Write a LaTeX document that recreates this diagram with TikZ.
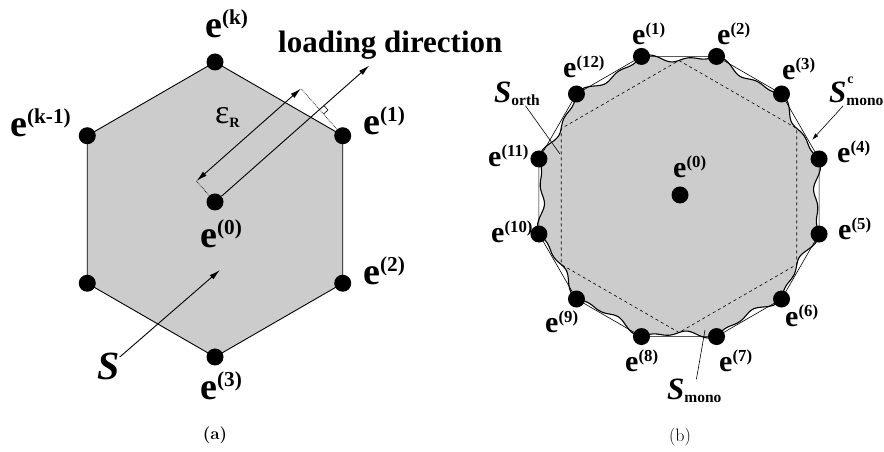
\documentclass[tikz,border=0pt]{standalone}
\usepackage{fontspec}
\usepackage{graphicx}
\usetikzlibrary{arrows.meta,calc}
\newfontfamily\tnr{Liberation Serif}
\newcommand\ee[1]{e\raisebox{.36em}{\scalebox{.56}{(#1)}}}
\newcommand\sub[1]{\raisebox{-.08em}{\scalebox{.5}{\upshape #1}}}

\begin{document}
\begin{tikzpicture}[x=1pt,y=1pt,
  dot/.style={circle,fill=black,inner sep=0pt,minimum size=17pt},
  lab/.style={anchor=base west,inner sep=0pt,font=\tnr\bfseries\fontsize{38}{40}\selectfont},
  slab/.style={anchor=base west,inner sep=0pt,font=\tnr\bfseries\fontsize{30}{32}\selectfont},
  slant/.style={slab,font=\tnr\bfseries\itshape\fontsize{31}{33}\selectfont},
  face/.style={fill=gray!40,draw=black,line width=0.9pt},
  arrow/.style={-{Latex[length=11pt,width=5.5pt]},line width=0.9pt},
  twoway/.style={{Latex[length=11pt,width=5.5pt]}-{Latex[length=11pt,width=5.5pt]},line width=0.9pt},
  guide/.style={densely dotted,line width=0.7pt},
  lead/.style={line width=0.6pt}]
\useasboundingbox (0,0) rectangle (884,452);
\coordinate (c1) at (215,242.5);
\foreach \n/\a in {k/90,1/30,2/-30,3/-90,4/-150,km/150}
  \coordinate (p\n) at ($(c1)+(\a:147.5)$);
\draw[face] (pk)--(p1)--(p2)--(p3)--(p4)--(pkm)--cycle;
\foreach \n in {k,1,2,3,4,km} \node[dot] (v\n) at (p\n) {};
\node[dot] (v0) at (215,250) {};
\node[lab] (lk) at (205,414) {\ee{k}};
\node[lab] (lkm) at (10,315) {\ee{k-1}};
\node[lab] (l1) at (363,317) {\ee{1}};
\node[lab] (l2) at (363,167) {\ee{2}};
\node[lab] (l3) at (200,52) {\ee{3}};
\node[lab] (l0) at (200,204) {\ee{0}};
\node[lab,font=\tnr\bfseries\fontsize{31}{33}\selectfont] (ldir) at (278,399) {loading direction};
\coordinate (ltip) at ($(v0.center)+(41.5:206)$);
\draw[arrow] (v0) -- (ltip);
\coordinate (ft) at ($(v0.center)!(v1.center)!(ltip)$);
\coordinate (ea) at ($(v0.center)+(131.5:28)$);
\coordinate (eb) at ($(ft)+(131.5:28)$);
\draw[twoway] (ea) -- (eb);
\draw[guide] (v0) -- (ea);
\draw[guide] (v1) -- (eb);
\draw[lead] ($(ft)+(-48.5:6)$) -- ++(41.5:6) -- ++(131.5:6);
\node[lab,font=\tnr\fontsize{34}{36}\selectfont] (eps) at (215,328) {ε\raisebox{-.1em}{\scalebox{.42}{\bfseries R}}};
\node[lab,font=\tnr\bfseries\itshape\fontsize{40}{42}\selectfont] (S) at (97,72) {S};
\coordinate (sa) at (220,182);
\draw[arrow] (S) -- (sa);
\node[font=\bfseries\fontsize{17}{19}\selectfont] (capa) at (215,17) {(a)};
\coordinate (c2) at (679,255.5);
\begin{scope}[shift={(c2)}]
\filldraw[fill=gray!40,line width=1.1pt] plot[domain=0:360,samples=361]
  ({\x+15}:{140.06/cos(mod(\x,30)-15)-4*sin(6*\x)*sin(6*\x)-2*sin(24*\x)}) -- cycle;
\draw[dashed,line width=0.6pt] (90:136)--(30:136)--(-30:136)--(-90:136)--(-150:136)--(150:136)--cycle;
\end{scope}
\foreach \k in {1,...,12} \coordinate (q\k) at ($(c2)+({135-30*\k}:145)$);
\draw[lead] (q1)--(q2)--(q3)--(q4)--(q5)--(q6)--(q7)--(q8)--(q9)--(q10)--(q11)--(q12)--cycle;
\foreach \k in {1,...,12} \node[dot] (w\k) at (q\k) {};
\node[dot] (w0) at (680,257) {};
\foreach \k/\x/\y in {1/632/407,2/717/407,3/782/372,4/837/289,5/838/212,6/785/125,7/719/80,
  8/625/80,9/545/119,10/491/209,11/488/285,12/563/374,0/673/274}
  \node[slab] (m\k) at (\x,\y) {\ee{\k}};
\node[slant] (Sorth) at (494,349) {S\sub{orth}};
\node[slant] (Smonoc) at (829,349)
  {S\rlap{\hspace{1pt}\raisebox{.62em}{\scalebox{.45}{\upshape c}}}\sub{mono}};
\node[slant] (Smono) at (667,52) {S\sub{mono}};
\coordinate (so) at (560,298);
\draw[lead] (Sorth) -- (so);
\coordinate (smc) at (812,312);
\draw[lead,-{Latex[length=7pt,width=4pt]}] (Smonoc) -- (smc);
\coordinate (smm) at (705,122);
\draw[lead] (Smono) -- (smm);
\node[font=\fontsize{18}{20}\selectfont] (capb) at (680,15) {(b)};
\end{tikzpicture}
\end{document}
